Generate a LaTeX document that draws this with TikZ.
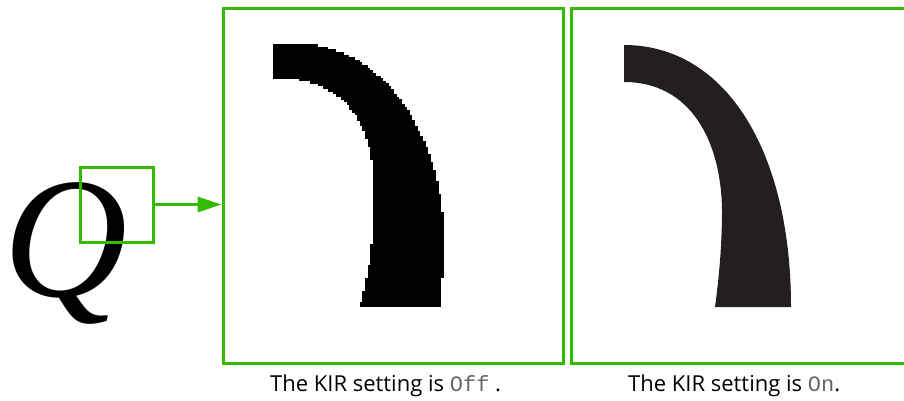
\documentclass[tikz,border=0pt]{standalone}
\usepackage{fontspec}
\setmainfont{Open Sans}
\newfontfamily\qfont{Liberation Serif}
\newfontfamily\lcdfont{Liberation Mono}
\usetikzlibrary{arrows.meta, positioning}
\definecolor{KIRGreen}{HTML}{33BB00}
\definecolor{InkBlack}{HTML}{231F20}
\newcommand{\lcdtext}[1]{{\lcdfont\color{black!60}#1}}
\newcommand{\pix}{2.63}

\begin{document}
\begin{tikzpicture}[
    x=1pt, y=-1pt,
    frame/.style={draw=KIRGreen, line width=3pt, inner sep=0pt},
    caption/.style={anchor=base west, inner sep=0pt, font=\fontsize{22}{26}\selectfont}
  ]
  \useasboundingbox (0,0) rectangle (904,401);
  \node[anchor=base west, inner sep=0pt, font=\qfont\itshape\fontsize{172}{172}\selectfont] (qletter) at (3,296) {Q};
  \node[frame, minimum width=73pt, minimum height=75pt] (zoombox) at (116.5,204.5) {};
  \node[frame, minimum width=340pt, minimum height=354pt] (offbox) at (393,186) {};
  \node[frame, minimum width=337pt, minimum height=354pt] (onbox) at (739.5,186) {};
  \draw[KIRGreen, line width=3pt, -{Triangle[length=24pt, width=15pt]}] (zoombox.east) -- (zoombox.east -| offbox.west);

  % pixelated glyph part, KIR off: one row of pixels at a time
  \foreach \row in {0,...,99} {
    \pgfmathsetmacro\ytop{44+\row*\pix}
    \pgfmathsetmacro\ybot{\ytop+\pix+0.4}
    \pgfmathsetmacro\ymid{\ytop+\pix/2}
    \pgfmathsetmacro\xr{\ymid<240 ? 300+144*sqrt(max(0,1-((240-\ymid)/196)^2)) : 444-4*((\ymid-240)/67)^2}
    \pgfmathsetmacro\xl{\ymid<78 ? 273 : (\ymid<200 ? 273+101*pow(max(0.0001,1-pow(abs(200-\ymid)/122,2.5)),0.4) : 374-14*((\ymid-200)/107)^2)}
    \pgfmathsetmacro\xl{273+round((\xl-273)/\pix)*\pix}
    \pgfmathsetmacro\xr{273+round((\xr-273)/\pix)*\pix}
    \fill[black] (\xl,\ytop) rectangle (\xr,\ybot);
  }

  % smooth glyph part, KIR on
  \fill[InkBlack] (624,45) .. controls (725,45) and (791,150) .. (791,307) -- (715,307)
    .. controls (718,285) and (722,250) .. (722,210)
    .. controls (721,140) and (690,82) .. (624,82) -- cycle;

  \node[caption] (offtext) at (270,391) {The KIR setting is \lcdtext{Off} .};
  \node[caption] (ontext) at (628,391) {The KIR setting is \lcdtext{On}.};
\end{tikzpicture}
\end{document}
